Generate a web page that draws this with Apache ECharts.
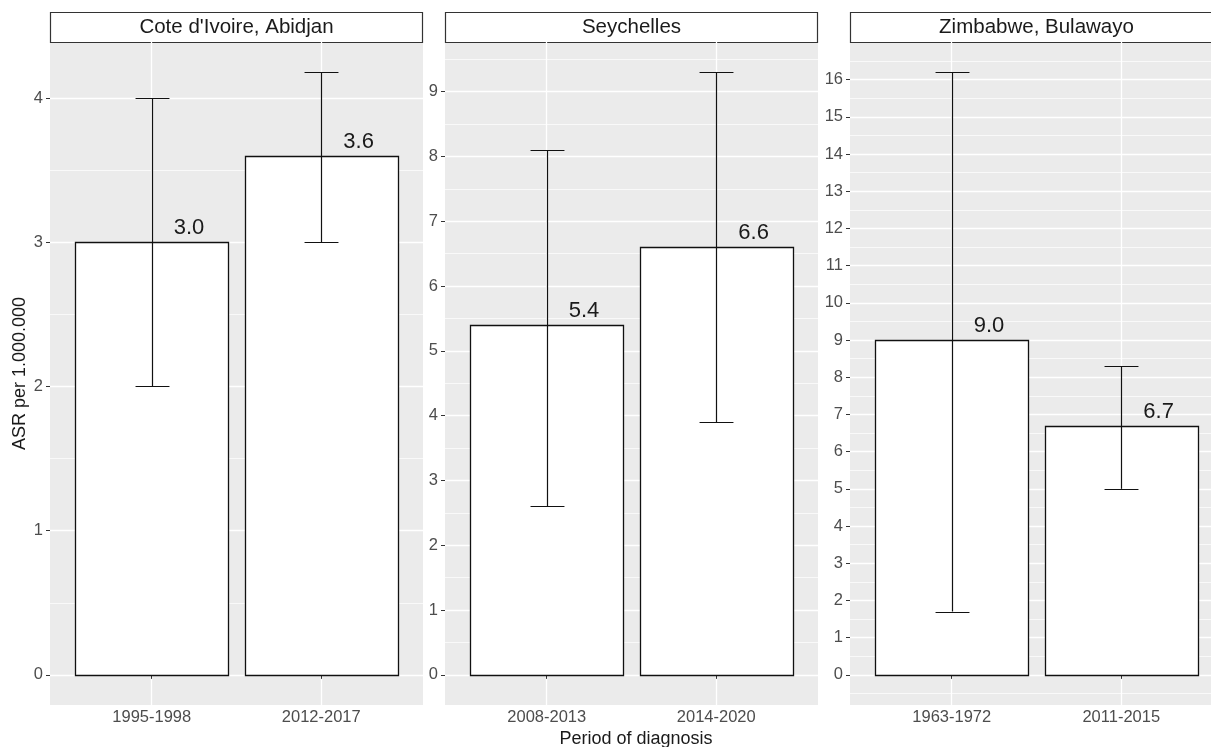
<!DOCTYPE html>
<html>
<head>
<meta charset="utf-8">
<script src="https://cdn.jsdelivr.net/npm/echarts@6/dist/echarts.min.js"></script>
<style>
  html, body { margin: 0; padding: 0; background: #fff; }
  #chart { width: 1211px; height: 747px; }
</style>
</head>
<body>
<div id="chart"></div>
<script>
const panels = ["Cote d'Ivoire, Abidjan", 'Seychelles', 'Zimbabwe, Bulawayo'];
const periods = [['1995-1998', '2012-2017'], ['2008-2013', '2014-2020'], ['1963-1972', '2011-2015']];
const asr = [[3.0, 3.6], [5.4, 6.6], [9.0, 6.7]];
const ciLow = [[2.0, 3.0], [2.6, 3.9], [1.7, 5.0]];
const ciHigh = [[4.0, 4.18], [8.1, 9.3], [16.2, 8.3]];
const yTicks = [
  [0, 1, 2, 3, 4],
  [0, 1, 2, 3, 4, 5, 6, 7, 8, 9],
  [0, 1, 2, 3, 4, 5, 6, 7, 8, 9, 10, 11, 12, 13, 14, 15, 16]
];

const FONT = '"Liberation Sans", Arial, Helvetica, sans-serif';
const panelLeft = [50, 445, 850];
const panelW = 373, panelTop = 42, panelH = 663;

// ggplot style y range: 0..max(upper), expanded 5%
function yRange(i) {
  const lo = Math.min(0, ...ciLow[i]);
  const hi = Math.max(...ciHigh[i]);
  const pad = (hi - lo) * 0.05;
  return [lo - pad, hi + pad];
}

function minorTicks(r) {
  const out = [];
  for (let k = Math.floor(r[0]) - 1; k <= r[1]; k++) {
    const v = k + 0.5;
    if (v >= r[0] && v <= r[1]) out.push(v);
  }
  return out;
}

function renderBar(params, api) {
  const x = api.value(0), v = api.value(1), lo = api.value(2), hi = api.value(3);
  const base = api.coord([x, 0]);
  const top = api.coord([x, v]);
  const pLo = api.coord([x, lo]);
  const pHi = api.coord([x, hi]);
  const w = api.size([0.9, 0])[0];
  const cap = api.size([0.2, 0])[0];
  const cx = Math.round(base[0]) + 0.5;
  const lab = api.coord([x + 0.22, v]);
  const line = { stroke: '#111', lineWidth: 1.2 };
  return {
    type: 'group',
    children: [
      {
        type: 'rect',
        shape: { x: Math.round(base[0] - w / 2) + 0.5, y: Math.round(top[1]) + 0.5, width: Math.round(w), height: Math.round(base[1]) - Math.round(top[1]) },
        style: { fill: '#fff', stroke: '#111', lineWidth: 1.3 }
      },
      { type: 'line', shape: { x1: cx, y1: pLo[1], x2: cx, y2: pHi[1] }, style: line },
      { type: 'line', shape: { x1: cx - cap / 2, y1: Math.round(pLo[1]) + 0.5, x2: cx + cap / 2, y2: Math.round(pLo[1]) + 0.5 }, style: line },
      { type: 'line', shape: { x1: cx - cap / 2, y1: Math.round(pHi[1]) + 0.5, x2: cx + cap / 2, y2: Math.round(pHi[1]) + 0.5 }, style: line },
      {
        type: 'text',
        x: lab[0], y: lab[1] - 14,
        style: { text: v.toFixed(1), fontSize: 22, fontFamily: FONT, fill: '#1a1a1a', textAlign: 'center', textVerticalAlign: 'middle' }
      }
    ]
  };
}

const grid = [], xAxis = [], yAxis = [], series = [], graphic = [];

panels.forEach((name, i) => {
  const r = yRange(i);
  grid.push({
    left: panelLeft[i], top: panelTop, width: panelW, height: panelH,
    show: true, backgroundColor: '#EBEBEB', borderWidth: 0,
    outerBoundsMode: 'none'
  });
  xAxis.push({
    type: 'value', gridIndex: i, min: 0.4, max: 2.6,
    axisLine: { show: false },
    axisTick: { show: true, customValues: [1, 2], length: 4, lineStyle: { color: '#333', width: 1 } },
    axisLabel: {
      customValues: [1, 2], margin: 4, color: '#4D4D4D', fontSize: 16.5, fontFamily: FONT,
      formatter: v => periods[i][Math.round(v) - 1]
    },
    splitLine: { show: true, lineStyle: { color: '#fff', width: 1.3 } }
  });
  // major y axis
  yAxis.push({
    type: 'value', gridIndex: i, min: r[0], max: r[1],
    axisLine: { show: false },
    axisTick: { show: true, customValues: yTicks[i], length: 4, lineStyle: { color: '#333', width: 1 } },
    axisLabel: { customValues: yTicks[i], margin: 7, color: '#4D4D4D', fontSize: 16.5, fontFamily: FONT },
    splitLine: { show: true, lineStyle: { color: '#fff', width: 1.3 } },
    name: i === 0 ? 'ASR per 1.000.000' : '',
    nameLocation: 'middle', nameGap: 21, nameRotate: 90,
    nameTextStyle: { fontSize: 18, color: '#1a1a1a', fontFamily: FONT }
  });
  // minor grid lines
  yAxis.push({
    type: 'value', gridIndex: i, min: r[0], max: r[1],
    axisLine: { show: false },
    axisTick: { show: false, customValues: minorTicks(r) },
    axisLabel: { show: false },
    splitLine: { show: true, lineStyle: { color: '#fff', width: 0.7 } }
  });
  series.push({
    type: 'custom', xAxisIndex: i, yAxisIndex: i * 2, z: 3,
    renderItem: renderBar,
    encode: { x: 0, y: [1, 2, 3] },
    data: asr[i].map((v, j) => [j + 1, v, ciLow[i][j], ciHigh[i][j]])
  });
  // facet strip
  graphic.push({
    type: 'rect',
    shape: { x: panelLeft[i] + 0.5, y: 12.5, width: panelW - 1, height: 30 },
    style: { fill: '#fff', stroke: '#333', lineWidth: 1.2 }
  });
  graphic.push({
    type: 'text', x: panelLeft[i] + panelW / 2, y: 27.5,
    style: { text: name, fontSize: 20.5, fontFamily: FONT, fill: '#1a1a1a', textAlign: 'center', textVerticalAlign: 'middle' }
  });
});

graphic.push({
  type: 'text', x: 636, y: 739,
  style: { text: 'Period of diagnosis', fontSize: 18, fontFamily: FONT, fill: '#1a1a1a', textAlign: 'center', textVerticalAlign: 'middle' }
});

const chart = echarts.init(document.getElementById('chart'), null, { renderer: 'canvas' });
chart.setOption({
  animation: false,
  backgroundColor: '#fff',
  textStyle: { fontFamily: FONT },
  grid, xAxis, yAxis, series, graphic
});
</script>
</body>
</html>
